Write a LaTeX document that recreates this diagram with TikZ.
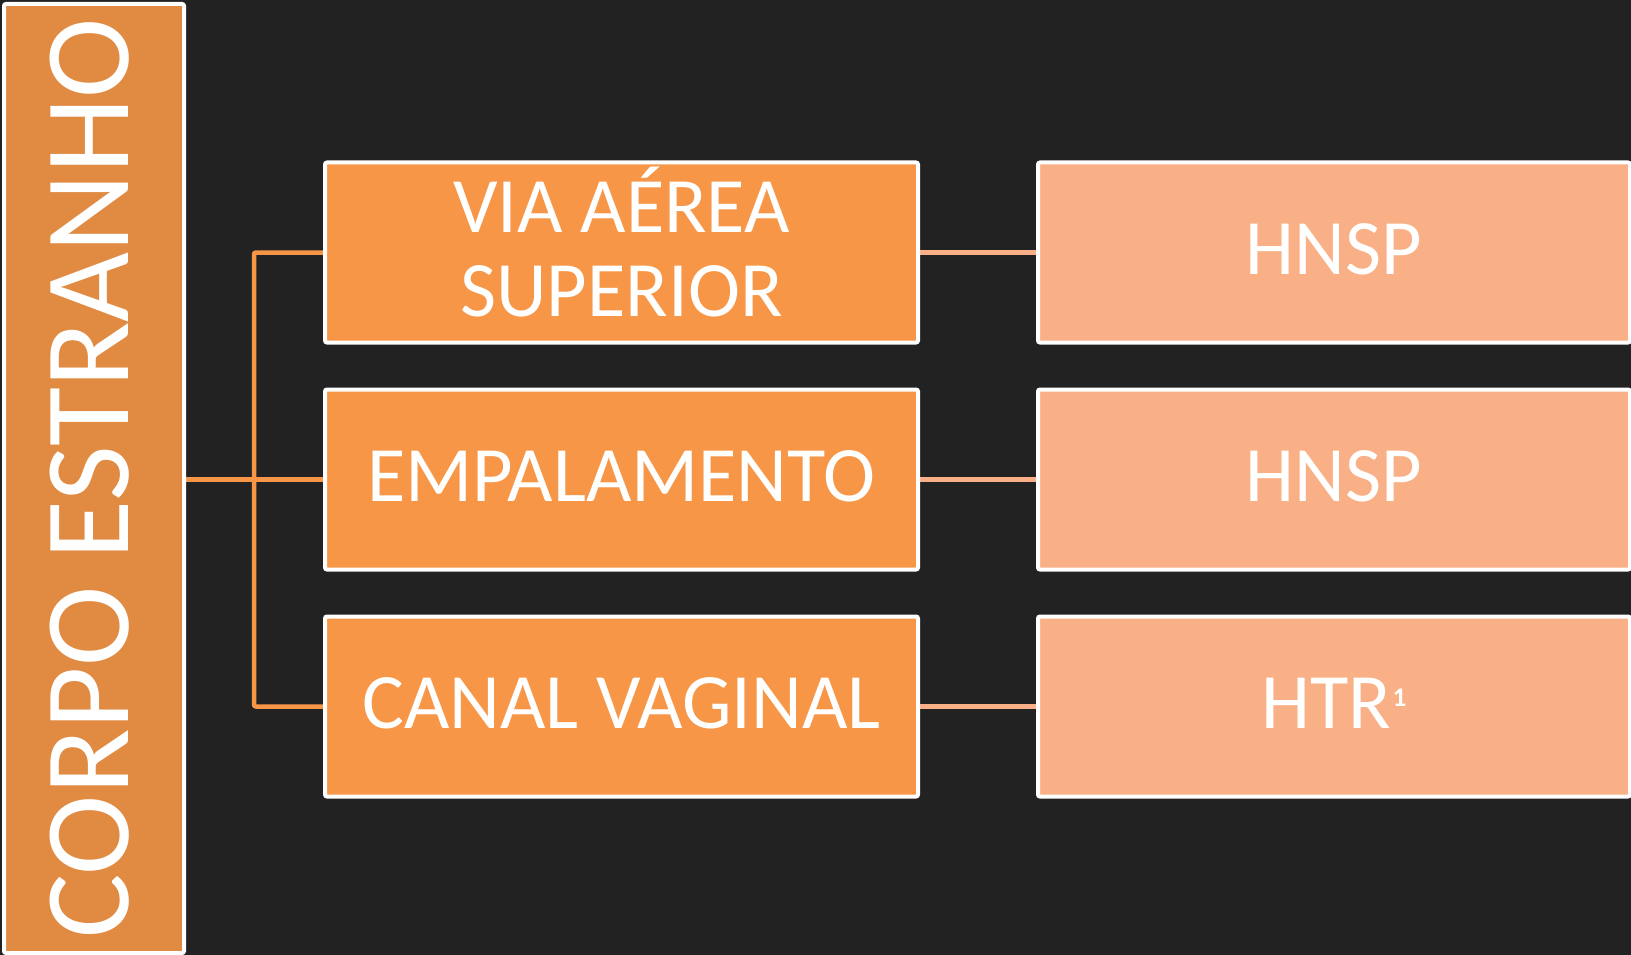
\documentclass[tikz,border=0pt]{standalone}
\usepackage{fontspec}
\setmainfont{Carlito}
\usetikzlibrary{backgrounds}
\definecolor{bgc}{HTML}{222222}
\definecolor{leftc}{HTML}{E08A42}
\definecolor{midc}{HTML}{F79646}
\definecolor{rightc}{HTML}{F9B086}
\newcommand{\baseat}[2]{\raisebox{#1}[0pt][0pt]{#2}}
\newcommand{\twolines}[2]{\begin{tabular}[b]{@{}c@{}}#1\\#2\end{tabular}}
\newcommand{\supone}{\kern1pt\raisebox{22pt}{\fontsize{27}{27}\selectfont\bfseries 1}}
\tikzset{
  basebox/.style={draw=white, line width=4pt, rounded corners=2pt, inner sep=0pt, align=center, text=white},
  leftbox/.style={basebox, fill=leftc, minimum width=949pt, minimum height=180pt, rotate=90, font=\fontsize{121}{130}\selectfont},
  midbox/.style={basebox, fill=midc, minimum width=593pt, minimum height=180pt, font=\fontsize{78.5}{84}\selectfont},
  rightbox/.style={basebox, fill=rightc, minimum width=592pt, minimum height=180pt, font=\fontsize{78.5}{84}\selectfont},
  treeline/.style={draw=midc, line width=4.5pt, rounded corners=2pt},
  sideline/.style={draw=rightc, line width=4.5pt}
}
\begin{document}
\begin{tikzpicture}[x=1pt,y=-1pt]
\useasboundingbox (0,0) rectangle (1631,955);
\node[leftbox] (lb) at (94,478.5) {\baseat{-34pt}{CORPO ESTRANHO}};
\node[midbox] (m1) at (621.5,252.5) {\baseat{-63.5pt}{\twolines{VIA AÉREA}{SUPERIOR}}};
\node[midbox] (m2) at (621.5,479.5) {\baseat{-21.5pt}{EMPALAMENTO}};
\node[midbox] (m3) at (621.5,706.5) {\baseat{-21.5pt}{CANAL VAGINAL}};
\node[rightbox] (r1) at (1334,252.5) {\baseat{-21.5pt}{HNSP}};
\node[rightbox] (r2) at (1334,479.5) {\baseat{-21.5pt}{HNSP}};
\node[rightbox] (r3) at (1334,706.5) {\baseat{-21.5pt}{HTR\supone}};
\coordinate (j) at (254,479.5);
\begin{scope}[on background layer]
\fill[bgc] (0,0) rectangle (1631,955);
\draw[treeline] (m1.west) -| (j) |- (m3.west);
\draw[treeline] (lb.south |- m2.west) -- (m2.west);
\draw[sideline] (m1.east) -- (r1.west);
\draw[sideline] (m2.east) -- (r2.west);
\draw[sideline] (m3.east) -- (r3.west);
\end{scope}
\end{tikzpicture}
\end{document}
